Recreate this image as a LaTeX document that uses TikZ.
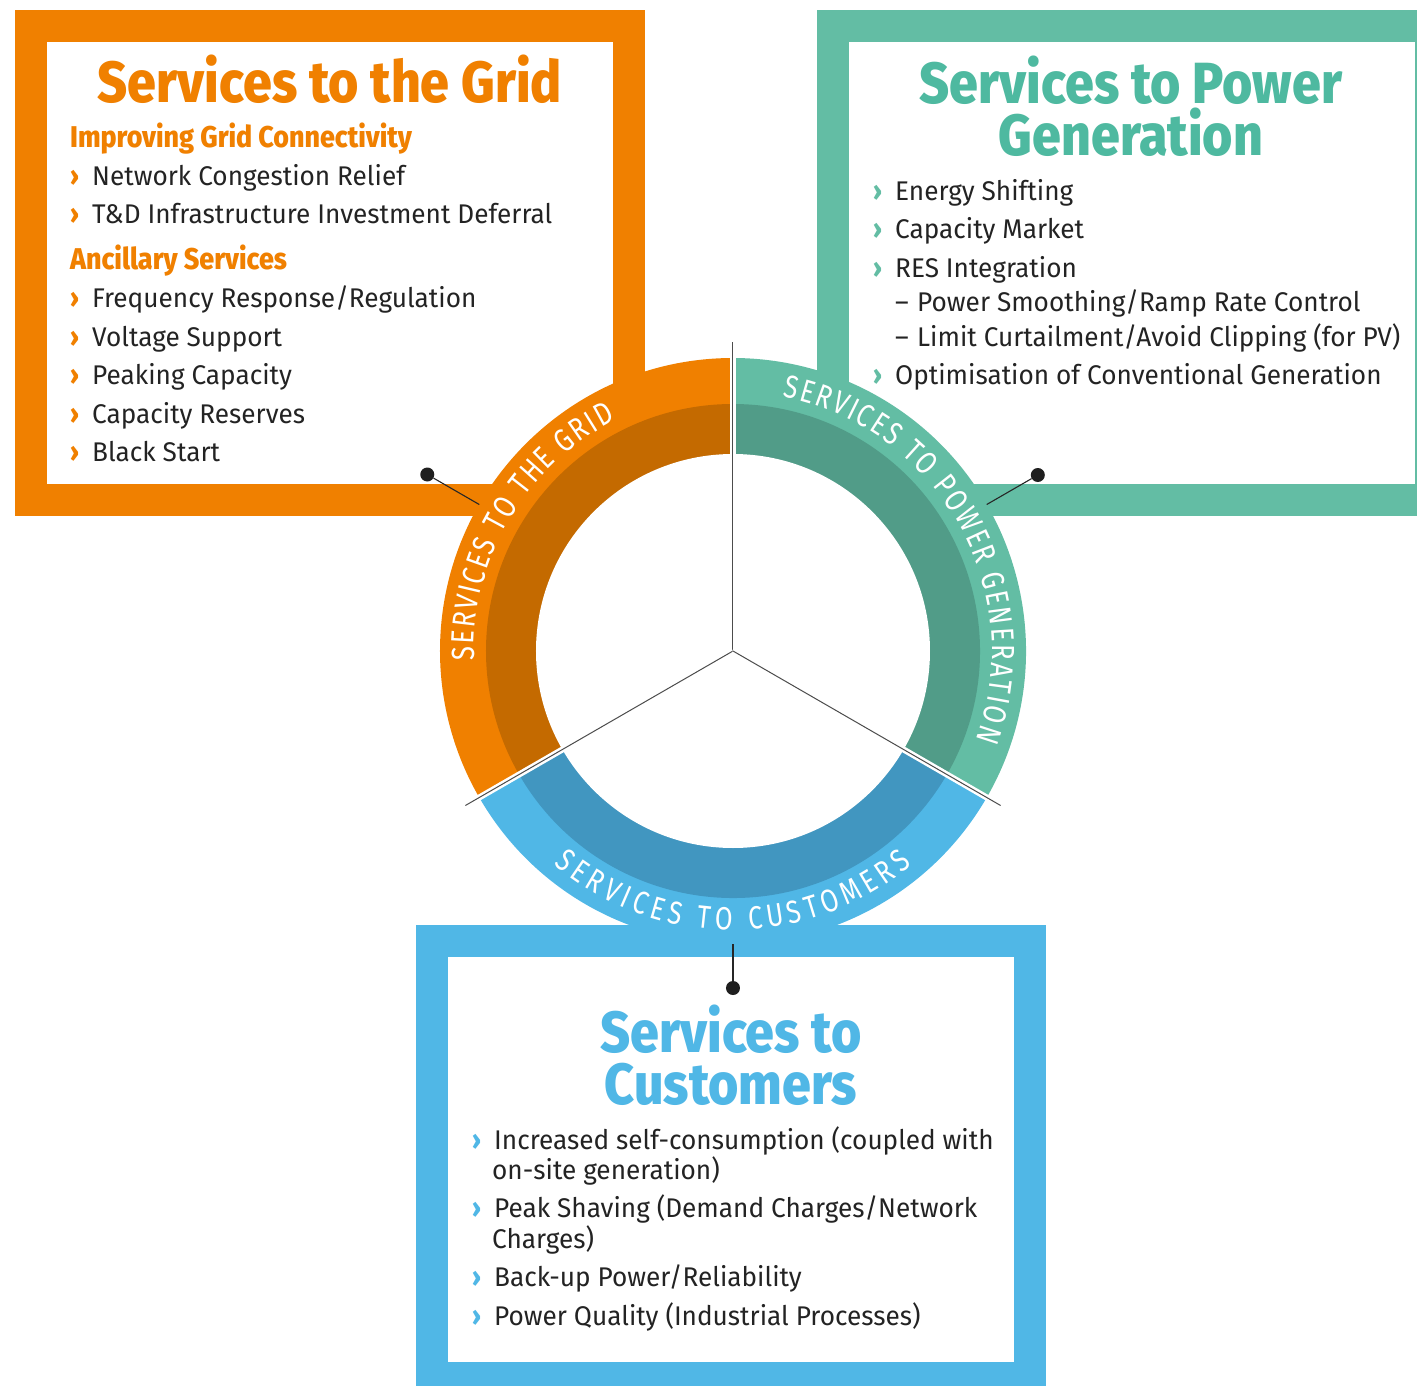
\documentclass[tikz,border=0pt]{standalone}
\usepackage{fontspec}
\usetikzlibrary{decorations.text}

\setmainfont{Fira Sans}
\newfontfamily\bodyfont{Fira Sans}[FakeStretch=0.97]
\IfFontExistsTF{Fira Sans ExtraBold}
  {\newfontfamily\headfont{Fira Sans ExtraBold}[FakeStretch=0.895]}
  {\newfontfamily\headfont{Fira Sans Bold}[FakeStretch=0.93]}
\newfontfamily\ringfont{Fira Sans}[FakeStretch=0.8]

\definecolor{gridor}{RGB}{240,128,0}
\definecolor{gridordk}{RGB}{196,106,0}
\definecolor{gente}{RGB}{99,189,164}
\definecolor{gentedk}{RGB}{81,156,136}
\definecolor{genhead}{RGB}{78,185,160}
\definecolor{custbl}{RGB}{80,183,230}
\definecolor{custbldk}{RGB}{65,150,192}
\definecolor{txt}{RGB}{35,35,35}

% bullet marks
\newcommand\chev[1]{\makebox[22pt][l]{\textcolor{#1}{\headfont ›}}}
\newcommand\subdash{\makebox[22pt][l]{–}}
% filled pie slice: from, to, radius, colour
\newcommand\ringpart[4]{\fill[#4] (0,0) -- (#1:#3) arc[start angle=#1, end angle=#2, radius=#3] -- cycle;}

\begin{document}
\begin{tikzpicture}[x=1pt,y=1pt]
 \tikzset{panel/.style = {draw=#1, line width=32pt, inner sep=0pt, outer sep=0pt, fill=white}}
 \tikzset{item/.style = {anchor=base west, inner sep=0pt, text=txt, font=\bodyfont\fontsize{27}{30}\selectfont}}
 \tikzset{head/.style = {anchor=base, inner sep=0pt, text=#1, font=\headfont\fontsize{58}{60}\selectfont}}
 \tikzset{subhead/.style = {anchor=base west, inner sep=0pt, text=gridor, font=\headfont\fontsize{30}{30}\selectfont}}
 \tikzset{dot/.style = {circle, fill=black!88, inner sep=0pt, minimum size=14pt}}
 \tikzset{link/.style = {draw=black!85, line width=1.1pt}}
 \tikzset{sep/.style = {draw=black!70, line width=1pt}}
 \tikzset{ringtext/.style = {decorate, decoration={text along path, text align=fit to path, text color=white,
   text={|\ringfont\fontsize{32}{34}\selectfont|#1}}}}

 \useasboundingbox (-733,-734) rectangle (684,651);
 \clip (-733,-734) rectangle (684,651);

 % panels
 \node[panel=gridor, minimum width=598pt, minimum height=474pt] (gridbox) at (-403,388) {};
 \node[panel=gente, minimum width=598pt, minimum height=474pt] (genbox) at (399,388) {};
 \node[panel=custbl, minimum width=598pt, minimum height=437pt] (custbox) at (-2,-508.5) {};

 % services to the grid
 \node[head=gridor] (gtitle) at (-403,548) {Services to the Grid};
 \node[subhead] (gsub1) at (-663,503) {Improving Grid Connectivity};
 \node[item] (gnet) at (-663,465) {\chev{gridor}Network Congestion Relief};
 \node[item] (gtd) at (-663,427) {\chev{gridor}T\&D Infrastructure Investment Deferral};
 \node[subhead] (gsub2) at (-663,381) {Ancillary Services};
 \node[item] (gfreq) at (-663,343) {\chev{gridor}Frequency Response/Regulation};
 \node[item] (gvolt) at (-663,304) {\chev{gridor}Voltage Support};
 \node[item] (gpeak) at (-663,266) {\chev{gridor}Peaking Capacity};
 \node[item] (gres) at (-663,228) {\chev{gridor}Capacity Reserves};
 \node[item] (gblack) at (-663,190) {\chev{gridor}Black Start};

 % services to power generation
 \node[head=genhead] (ptitle) at (398,547) {Services to Power};
 \node[head=genhead] (ptitle2) at (398,495) {Generation};
 \node[item] (pshift) at (140,450) {\chev{gente}Energy Shifting};
 \node[item] (pmarket) at (140,412) {\chev{gente}Capacity Market};
 \node[item] (pres) at (140,373) {\chev{gente}RES Integration};
 \node[item] (psmooth) at (162,339) {\subdash Power Smoothing/Ramp Rate Control};
 \node[item] (plimit) at (162,304) {\subdash Limit Curtailment/Avoid Clipping (for PV)};
 \node[item] (popt) at (140,266) {\chev{gente}Optimisation of Conventional Generation};

 % services to customers
 \node[head=custbl] (ctitle) at (-2,-401) {Services to};
 \node[head=custbl] (ctitle2) at (-2,-453) {Customers};
 \node[item] (cself) at (-261,-498) {\chev{custbl}Increased self-consumption (coupled with};
 \node[item] (cself2) at (-241,-528) {on-site generation)};
 \node[item] (cpeak) at (-261,-566) {\chev{custbl}Peak Shaving (Demand Charges/Network};
 \node[item] (cpeak2) at (-241,-597) {Charges)};
 \node[item] (cbackup) at (-261,-635) {\chev{custbl}Back-up Power/Reliability};
 \node[item] (cqual) at (-261,-674) {\chev{custbl}Power Quality (Industrial Processes)};

 % ring
 \ringpart{90}{210}{293}{gridor}
 \ringpart{90}{210}{247}{gridordk}
 \ringpart{-30}{90}{293}{gente}
 \ringpart{-30}{90}{247}{gentedk}
 \ringpart{210}{330}{293}{custbl}
 \ringpart{210}{330}{247}{custbldk}
 \fill[white] (0,0) circle[radius=197];

 \coordinate (hub) at (0,0);
 \coordinate (sepa) at (90:309);
 \coordinate (sepb) at (210:309);
 \coordinate (sepc) at (330:309);
 \foreach \s in {sepa,sepb,sepc} {
   \draw[white, line width=6pt] (hub) -- (\s);
   \draw[sep] (hub) -- (\s);
 }

 \path[ringtext={SERVICES TO THE GRID}] (182:259) arc[start angle=182, end angle=117, radius=259];
 \path[ringtext={SERVICES TO POWER GENERATION}] (79:259) arc[start angle=79, end angle=-20, radius=259];
 \path[ringtext={SERVICES TO CUSTOMERS}] (230:279) arc[start angle=230, end angle=310, radius=279];

 % connectors
 \coordinate (gend) at (150:293);
 \coordinate (pend) at (30:293);
 \coordinate (cend) at (270:293);
 \node[dot] (gdot) at (150:353) {};
 \node[dot] (pdot) at (30:352) {};
 \node[dot] (cdot) at (270:337) {};
 \draw[link] (gend) -- (gdot);
 \draw[link] (pend) -- (pdot);
 \draw[link] (cend) -- (cdot);
\end{tikzpicture}
\end{document}
